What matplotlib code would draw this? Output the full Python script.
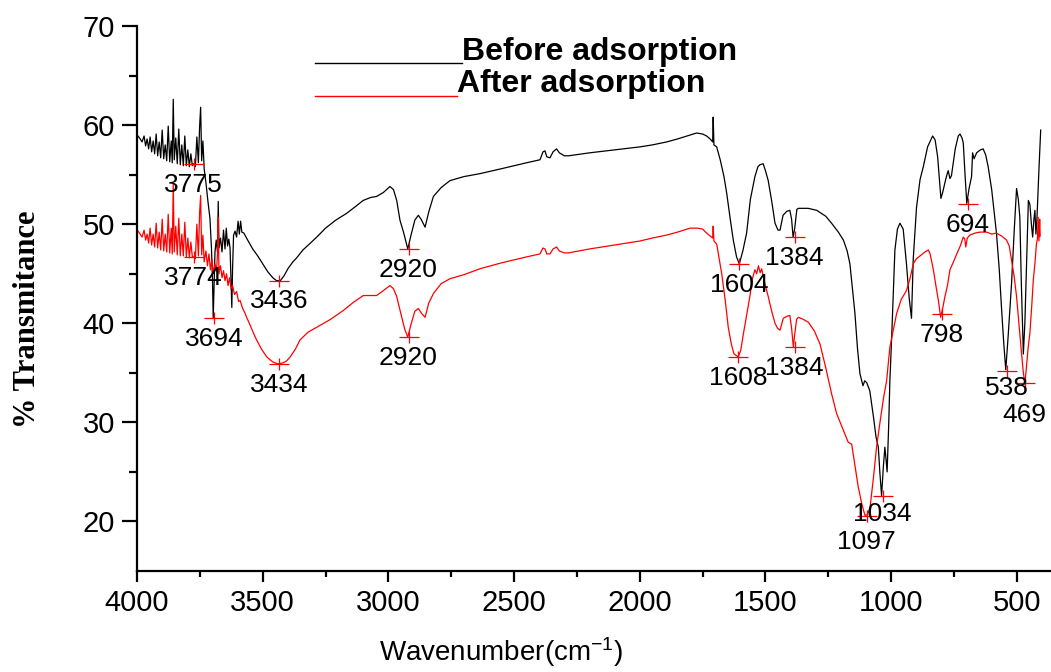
import numpy as np
import matplotlib
matplotlib.use("Agg")
import matplotlib.pyplot as plt
from matplotlib.lines import Line2D
from matplotlib.path import Path

plt.rcParams['font.family'] = ['Liberation Sans', 'DejaVu Sans']
plt.rcParams['mathtext.fontset'] = 'custom'
plt.rcParams['mathtext.rm'] = 'Liberation Sans'
plt.rcParams['mathtext.it'] = 'Liberation Sans:italic'

# FTIR spectrum before adsorption (wavenumber, %T)
before = [
    (4000, 59.0), (3990, 58.7), (3980, 58.3), (3972, 58.9), (3966, 57.9), (3960, 58.6),
    (3954, 57.6), (3948, 58.8), (3942, 57.3), (3936, 58.4), (3930, 57.1), (3924, 59.1),
    (3918, 56.9), (3912, 58.3), (3906, 56.7), (3900, 59.5), (3894, 56.6), (3888, 58.0),
    (3882, 56.4), (3876, 59.9), (3870, 56.3), (3864, 58.4), (3860, 56.2), (3856, 62.6),
    (3852, 56.5), (3846, 58.7), (3840, 56.1), (3834, 59.6), (3828, 56.0), (3822, 58.0),
    (3816, 55.9), (3810, 58.9), (3804, 55.9), (3798, 57.5), (3792, 55.8), (3786, 57.1),
    (3780, 55.9), (3775, 56.1), (3768, 55.8), (3762, 58.8), (3756, 56.2), (3751, 59.9),
    (3747, 61.8), (3743, 56.4), (3738, 58.4), (3733, 55.6), (3726, 54.2), (3718, 52.3),
    (3710, 50.6), (3704, 47.6), (3700, 44.5), (3697, 40.5), (3694, 43.5), (3690, 47.2),
    (3685, 48.4), (3680, 47.2), (3677, 52.3), (3674, 47.6), (3668, 48.6), (3662, 47.2),
    (3656, 49.4), (3650, 47.5), (3645, 49.6), (3640, 47.8), (3635, 48.5), (3630, 47.6),
    (3626, 44.2), (3623, 41.6), (3620, 45.5), (3616, 48.9), (3610, 49.3), (3604, 48.7),
    (3598, 50.3), (3593, 49.0), (3588, 50.3), (3583, 49.2), (3575, 49.1), (3560, 48.4),
    (3540, 47.5), (3520, 46.8), (3500, 46.0), (3480, 45.2), (3460, 44.6), (3445, 44.3),
    (3430, 44.3), (3415, 44.8), (3400, 45.5), (3380, 46.2), (3365, 46.6), (3340, 47.4),
    (3310, 48.1), (3285, 48.7), (3250, 49.6), (3210, 50.4), (3166, 51.1), (3130, 51.8),
    (3100, 52.4), (3070, 52.7), (3047, 52.8), (3020, 53.2), (2994, 53.8), (2980, 53.5),
    (2967, 52.4), (2954, 50.4), (2940, 49.2), (2923, 47.5), (2910, 48.9), (2895, 50.4),
    (2881, 50.9), (2870, 50.5), (2854, 49.7), (2840, 51.2), (2821, 52.8), (2790, 53.7),
    (2755, 54.4), (2700, 54.8), (2636, 55.1), (2550, 55.6), (2450, 56.2), (2397, 56.5),
    (2385, 57.3), (2377, 57.4), (2370, 56.8), (2357, 56.7), (2345, 57.3), (2331, 57.6),
    (2320, 57.2), (2300, 56.9), (2284, 56.9), (2200, 57.2), (2100, 57.5), (2000, 57.8),
    (1950, 58.0), (1893, 58.3), (1850, 58.6), (1800, 59.0), (1774, 59.2), (1750, 59.1),
    (1734, 58.9), (1720, 58.6), (1710, 58.3), (1708, 60.8), (1705, 58.0), (1694, 57.8),
    (1680, 56.5), (1665, 54.8), (1654, 53.1), (1640, 50.5), (1628, 48.4), (1615, 46.7),
    (1604, 46.0), (1590, 47.3), (1575, 49.1), (1560, 52.5), (1542, 54.8), (1530, 55.8),
    (1522, 56.0), (1509, 56.1), (1500, 55.4), (1489, 54.4), (1475, 52.3), (1462, 50.1),
    (1450, 49.4), (1442, 49.4), (1430, 50.9), (1415, 51.3), (1403, 51.4), (1396, 50.5),
    (1390, 48.7), (1384, 49.5), (1375, 51.5), (1369, 51.6), (1330, 51.6), (1296, 51.4),
    (1260, 50.8), (1237, 50.1), (1210, 49.2), (1190, 48.4), (1175, 47.3), (1164, 46.0),
    (1154, 43.5), (1144, 41.0), (1134, 37.5), (1124, 34.9), (1112, 33.7), (1105, 34.2),
    (1097, 34.0), (1085, 33.2), (1070, 30.5), (1060, 28.5), (1051, 27.5), (1045, 25.0),
    (1038, 22.6), (1031, 25.5), (1025, 27.5), (1020, 26.2), (1016, 25.0), (1010, 29.5),
    (1005, 34.2), (998, 38.5), (985, 47.4), (975, 49.5), (965, 50.1), (952, 49.5),
    (939, 46.0), (928, 42.5), (919, 40.5), (912, 46.5), (899, 51.7), (885, 54.5),
    (872, 55.8), (855, 57.8), (835, 58.9), (825, 58.5), (815, 56.8), (802, 52.6),
    (795, 53.2), (784, 54.4), (778, 55.0), (773, 55.4), (766, 54.6), (760, 54.9),
    (745, 57.6), (733, 58.9), (726, 59.1), (718, 58.7), (713, 58.2), (706, 55.0),
    (699, 52.1), (690, 53.6), (680, 54.8), (676, 57.2), (670, 56.6), (660, 57.2),
    (645, 57.5), (634, 57.6), (624, 57.0), (614, 55.8), (600, 53.5), (581, 49.1),
    (570, 45.5), (561, 41.6), (552, 38.0), (544, 35.3), (535, 38.5), (521, 44.0),
    (510, 49.5), (501, 53.6), (494, 52.5), (488, 50.7), (482, 44.0), (474, 36.9),
    (468, 40.0), (460, 47.0), (454, 52.4), (448, 52.0), (442, 50.0), (437, 48.7),
    (432, 50.5), (428, 51.4), (424, 49.0), (420, 50.5), (412, 55.5), (405, 59.5),
]

# FTIR spectrum after adsorption
after = [
    (4000, 49.4), (3990, 49.1), (3980, 48.7), (3972, 49.4), (3966, 48.4), (3960, 49.0),
    (3954, 48.1), (3948, 49.6), (3942, 47.9), (3936, 49.0), (3930, 47.7), (3924, 50.1),
    (3918, 47.6), (3912, 49.2), (3906, 47.4), (3900, 50.5), (3894, 47.3), (3888, 49.0),
    (3882, 47.2), (3876, 51.0), (3870, 47.1), (3864, 49.6), (3860, 47.0), (3856, 54.1),
    (3852, 47.2), (3846, 49.8), (3840, 46.9), (3834, 50.6), (3828, 46.8), (3822, 49.0),
    (3816, 46.8), (3810, 50.2), (3804, 46.7), (3798, 48.6), (3792, 46.6), (3786, 48.2),
    (3780, 46.7), (3774, 46.7), (3768, 46.5), (3762, 50.0), (3756, 46.8), (3751, 51.2),
    (3747, 52.9), (3743, 46.9), (3738, 48.9), (3733, 46.2), (3726, 47.3), (3720, 45.8),
    (3714, 47.0), (3708, 45.4), (3702, 46.5), (3697, 45.0), (3690, 46.0), (3684, 45.2),
    (3680, 47.0), (3677, 50.7), (3674, 45.0), (3668, 45.8), (3662, 44.6), (3656, 45.3),
    (3650, 44.3), (3644, 45.0), (3638, 43.8), (3632, 44.6), (3626, 43.5), (3620, 43.8),
    (3612, 42.9), (3604, 43.2), (3596, 42.2), (3590, 42.3), (3580, 41.5), (3570, 41.0),
    (3564, 40.6), (3550, 39.8), (3535, 38.9), (3524, 38.3), (3505, 37.4), (3484, 36.6),
    (3460, 36.1), (3440, 35.9), (3420, 36.0), (3405, 36.2), (3391, 36.6), (3370, 37.4),
    (3352, 38.3), (3320, 39.1), (3285, 39.6), (3230, 40.4), (3179, 41.3), (3140, 42.1),
    (3100, 42.8), (3070, 42.8), (3047, 42.8), (3020, 43.3), (2994, 43.8), (2980, 43.5),
    (2967, 42.7), (2947, 40.6), (2935, 39.4), (2923, 38.6), (2910, 39.9), (2895, 41.2),
    (2881, 41.5), (2868, 41.0), (2854, 40.6), (2840, 42.0), (2821, 43.0), (2790, 44.0),
    (2755, 44.5), (2700, 44.9), (2636, 45.5), (2550, 46.1), (2450, 46.7), (2397, 47.0),
    (2385, 47.6), (2377, 47.5), (2370, 47.0), (2357, 47.0), (2345, 47.5), (2331, 47.7),
    (2320, 47.3), (2300, 47.1), (2284, 47.1), (2200, 47.5), (2100, 47.9), (2000, 48.3),
    (1950, 48.6), (1893, 48.9), (1850, 49.2), (1800, 49.6), (1770, 49.6), (1750, 49.5),
    (1734, 49.1), (1720, 48.8), (1710, 48.6), (1708, 49.8), (1705, 48.3), (1694, 48.0),
    (1684, 46.5), (1674, 45.0), (1660, 42.3), (1648, 39.6), (1635, 37.8), (1625, 36.9),
    (1608, 36.6), (1598, 37.3), (1588, 38.9), (1575, 40.8), (1562, 42.7), (1552, 44.5),
    (1542, 45.4), (1535, 45.0), (1528, 45.8), (1521, 45.1), (1515, 45.5), (1505, 44.3),
    (1489, 42.7), (1475, 41.2), (1462, 40.0), (1452, 39.5), (1442, 39.3), (1429, 40.5),
    (1415, 40.7), (1403, 40.8), (1396, 39.5), (1389, 37.6), (1384, 38.8), (1376, 40.4),
    (1369, 40.6), (1350, 40.4), (1329, 40.1), (1305, 39.2), (1283, 37.9), (1260, 35.5),
    (1237, 32.9), (1217, 30.9), (1195, 29.5), (1171, 28.0), (1157, 27.8), (1145, 25.8),
    (1131, 23.5), (1117, 21.8), (1104, 20.6), (1094, 20.7), (1084, 21.4), (1070, 24.5),
    (1058, 27.5), (1045, 29.9), (1030, 32.5), (1018, 34.2), (1005, 37.6), (990, 39.5),
    (978, 41.0), (960, 42.4), (939, 43.3), (925, 44.5), (912, 46.0), (900, 46.5),
    (880, 46.9), (865, 47.2), (852, 47.4), (845, 47.0), (832, 45.4), (822, 43.8),
    (812, 42.3), (803, 40.6), (795, 41.5), (786, 42.7), (776, 43.8), (766, 45.4),
    (752, 46.2), (739, 47.0), (725, 47.8), (713, 48.7), (707, 48.5), (703, 47.7),
    (697, 48.6), (687, 48.9), (667, 49.1), (647, 49.2), (620, 49.2), (600, 49.0),
    (581, 49.1), (560, 48.8), (541, 48.4), (530, 47.8), (521, 46.4), (511, 44.8),
    (501, 42.7), (490, 39.5), (481, 36.9), (474, 35.0), (468, 33.9), (462, 35.5),
    (455, 37.5), (448, 39.0), (440, 42.0), (434, 44.5), (428, 46.0), (422, 48.0),
    (418, 48.5), (415, 50.7), (412, 48.3), (409, 50.5), (407, 48.8),
]

# picked peaks (wavenumber, %T at marker)
peaks_before_wn = [3775, 3694, 3436, 2920, 1604, 1384, 1034, 694, 538]
peaks_before_t = [56.1, 40.5, 44.3, 47.5, 46.0, 48.7, 22.6, 52.0, 35.2]
peaks_after_wn = [3774, 3434, 2920, 1608, 1384, 1097, 798, 469]
peaks_after_t = [46.7, 35.9, 38.6, 36.6, 37.6, 20.6, 40.9, 34.0]

# how far below its cross each label sits (points)
label_dy_before = [-15, -15, -15, -15, -15, -15, -13, -15, -12]
label_dy_after = [-15, -15, -15, -15, -15, -19, -15, -23]

x_ticks = [4000, 3500, 3000, 2500, 2000, 1500, 1000, 500]
y_ticks = [20, 30, 40, 50, 60, 70]

wb, tb = np.array(before).T
wa, ta = np.array(after).T

fig = plt.figure(figsize=(10.51, 6.72), dpi=100)
ax = fig.add_axes([0.1304, 0.1503, 0.8696, 0.8110])

ax.plot(wb, tb, color='black', lw=0.9)
ax.plot(wa, ta, color='red', lw=0.9)

# wide "+" marker like the picked-peak crosses
cross = Path([(-1, 0), (1, 0), (0, -0.6), (0, 0.6)],
             [Path.MOVETO, Path.LINETO, Path.MOVETO, Path.LINETO])
ax.plot(peaks_before_wn, peaks_before_t, ls='none', marker=cross, ms=15,
        mec='red', mew=0.9, zorder=3)
ax.plot(peaks_after_wn, peaks_after_t, ls='none', marker=cross, ms=15,
        mec='red', mew=0.9, zorder=3)

for w, t, dy in zip(peaks_before_wn + peaks_after_wn,
                    peaks_before_t + peaks_after_t,
                    label_dy_before + label_dy_after):
    ax.annotate(str(w), (w, t), xytext=(0, dy), textcoords='offset points',
                ha='center', va='center', fontsize=19, color='black')

ax.set_xlim(4000, 364)
ax.set_ylim(15, 70)
ax.set_xticks(x_ticks)
ax.set_xticks([3750, 3250, 2750, 2250, 1750, 1250, 750], minor=True)
ax.set_yticks(y_ticks)
ax.set_yticks([25, 35, 45, 55, 65], minor=True)

for s in ['top', 'right']:
    ax.spines[s].set_visible(False)
for s in ['left', 'bottom']:
    ax.spines[s].set_linewidth(1.6)

ax.tick_params(axis='both', which='major', direction='out', width=1.6,
               labelsize=21, pad=5)
ax.tick_params(axis='y', which='major', length=11)
ax.tick_params(axis='x', which='major', length=8)
ax.tick_params(axis='y', which='minor', direction='out', width=1.6, length=5.5)
ax.tick_params(axis='x', which='minor', direction='out', width=1.6, length=4.5)

fig.text(0.0266, 0.525, '% Transmitance', rotation=90, ha='center', va='center',
         fontsize=22, fontweight='bold', family=['Liberation Serif', 'DejaVu Serif'])
fig.text(0.4767, 0.030, 'Wavenumber(cm$^{-1}$)', ha='center', va='center', fontsize=20)

# legend drawn as line + bold label, like the original
fig.add_artist(Line2D([0.2997, 0.4396], [0.9062, 0.9062], color='black', lw=1.0,
                      transform=fig.transFigure))
fig.text(0.4396, 0.9107, 'Before adsorption', ha='left', va='baseline',
         fontsize=23, fontweight='bold')
fig.add_artist(Line2D([0.2997, 0.4348], [0.8571, 0.8571], color='red', lw=1.0,
                      transform=fig.transFigure))
fig.text(0.4348, 0.8631, 'After adsorption', ha='left', va='baseline',
         fontsize=23, fontweight='bold')

fig.savefig('out.png', dpi=100)
